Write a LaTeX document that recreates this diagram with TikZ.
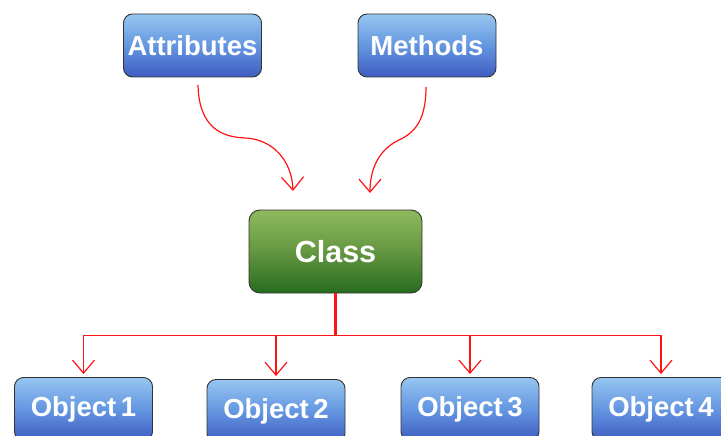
\documentclass[tikz,border=0pt]{standalone}
\usepackage{fontspec}
\setmainfont{Liberation Sans}
\usetikzlibrary{arrows.meta,calc}
\definecolor{bluetop}{RGB}{150,198,240}
\definecolor{bluemid}{RGB}{100,150,225}
\definecolor{bluebot}{RGB}{62,92,192}
\definecolor{greentop}{RGB}{142,186,92}
\definecolor{greenmid}{RGB}{100,150,65}
\definecolor{greenbot}{RGB}{38,108,30}
\definecolor{linered}{RGB}{255,20,20}
\tikzset{
  bluebox/.style={draw=black!80, line width=0.9pt, rounded corners=9pt,
    top color=bluetop, bottom color=bluebot, middle color=bluemid,
    minimum width=138pt, minimum height=63pt, inner sep=0pt,
    text=white, font=\fontsize{27.5}{29}\selectfont\bfseries},
  greenbox/.style={draw=black!80, line width=0.9pt, rounded corners=11pt,
    top color=greentop, bottom color=greenbot, middle color=greenmid,
    minimum width=173pt, minimum height=83pt, inner sep=0pt,
    text=white, font=\fontsize{30.5}{32}\selectfont\bfseries},
  redarrow/.style={draw=linered, line width=1.2pt,
    -{Straight Barb[length=13pt,width=22pt,line width=1.2pt]}},
}
\begin{document}
\begin{tikzpicture}[x=1pt,y=-1pt]
\useasboundingbox (0,0) rectangle (721,436);
\begin{scope}
\clip (0,0) rectangle (721,436);
\node[bluebox] (attr) at (192.5,45.5) {Attributes};
\node[bluebox] (meth) at (427,45.5) {Methods};
\node[greenbox] (class) at (335.5,251.5) {Class};
\node[bluebox] (o1) at (83.5,409) {Object\,1};
\node[bluebox] (o2) at (276,411) {Object\,2};
\node[bluebox] (o3) at (470,409) {Object\,3};
\node[bluebox] (o4) at (661,409) {Object\,4};

\coordinate (a1) at (198,85);
\coordinate (a2) at (293,191);
\coordinate (m1) at (426,87);
\coordinate (m2) at (370,193);
\draw[redarrow] (a1) .. controls (199,128) and (222,137) .. (245,138)
  .. controls (272,139) and (292,160) .. (a2);
\draw[redarrow] (m1) .. controls (426,124) and (412,134) .. (397,141)
  .. controls (378,151) and (370,170) .. (m2);

\coordinate (bus) at ($(class.south)+(0,42)$);
\draw[draw=linered, line width=2.4pt] (class.south) -- (bus);
\foreach \o in {o1,o2,o3,o4}
  \draw[redarrow, shorten >=3pt] (bus) -| (\o.north);
\end{scope}
\end{tikzpicture}
\end{document}
